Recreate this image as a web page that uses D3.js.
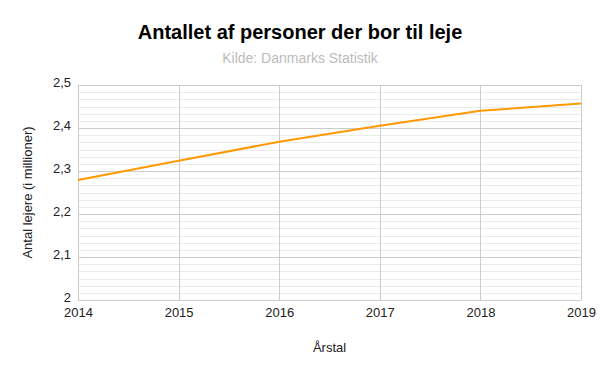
<!DOCTYPE html>
<html lang="da">
<head>
<meta charset="UTF-8">
<title>Antallet af personer der bor til leje</title>
<script src="https://d3js.org/d3.v7.min.js"></script>
<style>
    body { margin: 0; background: #fff; font-family: "Liberation Sans", Arial, sans-serif; }
    .tick text { font-size: 13px; fill: #222; }
</style>
</head>
<body>
<svg id="chart" width="600" height="371"></svg>
<script>
// aar og antal lejere (mio.)
const years = [2014, 2015, 2016, 2017, 2018, 2019];
const lejere = [2.279, 2.324, 2.368, 2.405, 2.440, 2.457];
const yTicks = [2, 2.1, 2.2, 2.3, 2.4, 2.5];

const margin = { top: 85, right: 19, bottom: 71, left: 78 };
const width = 600 - margin.left - margin.right;
const height = 371 - margin.top - margin.bottom;

const svg = d3.select("#chart");
const g = svg.append("g").attr("transform", `translate(${margin.left},${margin.top})`);

const x = d3.scaleLinear().domain([2014, 2019]).range([0, width]);
const y = d3.scaleLinear().domain([2, 2.5]).range([height, 0]);

// minor gridlines (5 mellem hver hovedlinje)
const minor = [];
for (let i = 0; i < yTicks.length - 1; i++) {
    for (let k = 1; k <= 5; k++) minor.push(yTicks[i] + k * 0.1 / 6);
}
g.selectAll(".minor").data(minor).enter().append("line")
    .attr("x1", 0).attr("x2", width)
    .attr("y1", d => Math.round(y(d)) + 0.5).attr("y2", d => Math.round(y(d)) + 0.5)
    .attr("stroke", "#ebebeb");

g.selectAll(".major").data(yTicks).enter().append("line")
    .attr("x1", 0).attr("x2", width)
    .attr("y1", d => Math.round(y(d)) + 0.5).attr("y2", d => Math.round(y(d)) + 0.5)
    .attr("stroke", "#cccccc");

g.selectAll(".vgrid").data(years).enter().append("line")
    .attr("x1", d => Math.round(x(d)) + 0.5).attr("x2", d => Math.round(x(d)) + 0.5)
    .attr("y1", 0).attr("y2", height)
    .attr("stroke", "#cccccc");

// akser
g.append("g")
    .attr("transform", `translate(0,${height})`)
    .call(d3.axisBottom(x).tickValues(years).tickFormat(d => d).tickSize(0).tickPadding(8))
    .call(a => a.select(".domain").remove());

g.append("g")
    .call(d3.axisLeft(y).tickValues(yTicks).tickFormat(d => String(d).replace(".", ",")).tickSize(0).tickPadding(7))
    .call(a => a.select(".domain").remove())
    .call(a => a.selectAll(".tick text").attr("dy", "0.1em"));

// linje
g.append("path")
    .datum(years.map((d, i) => [d, lejere[i]]))
    .attr("fill", "none")
    .attr("stroke", "#ff9900")
    .attr("stroke-width", 2)
    .attr("d", d3.line().x(d => x(d[0])).y(d => y(d[1])));

// titler
svg.append("text")
    .attr("x", 300).attr("y", 39)
    .attr("text-anchor", "middle")
    .style("font-size", "20px").style("font-weight", "bold").style("fill", "#000")
    .text("Antallet af personer der bor til leje");

svg.append("text")
    .attr("x", 300).attr("y", 63)
    .attr("text-anchor", "middle")
    .style("font-size", "14px").style("fill", "#bbbbbb")
    .text("Kilde: Danmarks Statistik");

svg.append("text")
    .attr("x", margin.left + width / 2).attr("y", 352)
    .attr("text-anchor", "middle")
    .style("font-size", "13px").style("fill", "#222")
    .text("Årstal");

svg.append("text")
    .attr("transform", `translate(32,${margin.top + height / 2}) rotate(-90)`)
    .attr("text-anchor", "middle")
    .style("font-size", "13px").style("fill", "#222")
    .text("Antal lejere (i millioner)");
</script>
</body>
</html>
